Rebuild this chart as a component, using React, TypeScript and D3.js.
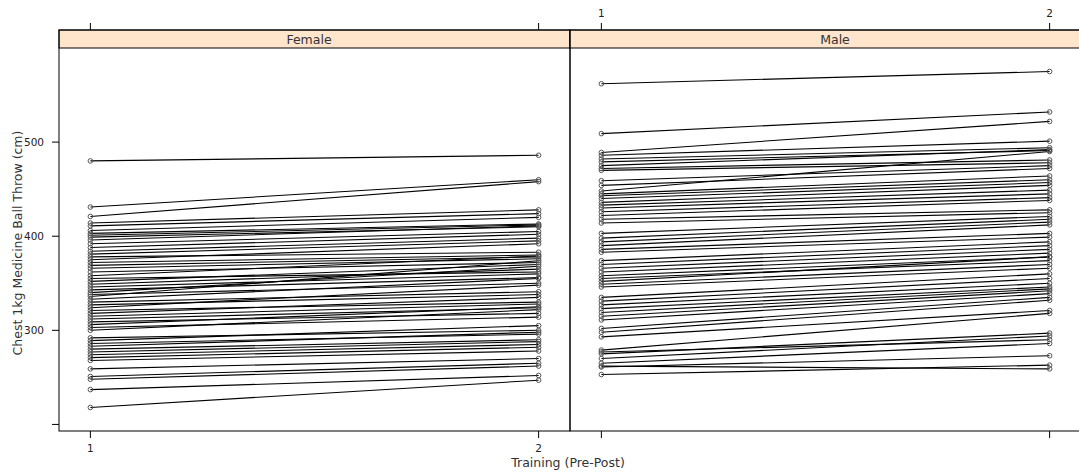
import React from "react";
import * as d3 from "d3";

const panels = ["Female", "Male"];

const femalePre = [480, 431, 421, 414, 411, 406, 403, 401, 399, 396, 392, 388, 384, 381, 378, 375, 372, 369, 366, 362, 358, 355, 352, 349, 346, 343, 340, 338, 336, 333, 330, 327, 324, 321, 318, 315, 312, 309, 306, 303, 300, 292, 289, 286, 283, 280, 277, 274, 271, 268, 259, 251, 248, 237, 218];
const femalePost = [486, 460, 458, 428, 424, 420, 413, 412, 410, 411, 405, 402, 398, 395, 383, 392, 380, 378, 376, 372, 379, 362, 370, 365, 360, 356, 368, 350, 374, 355, 341, 338, 348, 330, 335, 328, 324, 318, 325, 314, 322, 300, 305, 296, 298, 290, 288, 285, 282, 278, 270, 265, 262, 252, 247];

const malePre = [562, 509, 489, 486, 482, 479, 475, 472, 470, 459, 454, 448, 445, 443, 440, 436, 433, 430, 426, 422, 418, 414, 403, 398, 394, 390, 386, 383, 374, 370, 366, 362, 358, 355, 352, 349, 346, 335, 331, 327, 323, 319, 315, 311, 302, 298, 293, 279, 277, 275, 270, 265, 262, 261, 253];
const malePost = [575, 532, 522, 501, 494, 491, 492, 481, 478, 475, 472, 490, 464, 460, 457, 454, 449, 445, 441, 438, 428, 425, 421, 418, 415, 412, 403, 399, 394, 390, 386, 382, 378, 374, 378, 370, 366, 360, 355, 350, 346, 344, 342, 339, 335, 332, 321, 318, 290, 297, 294, 286, 259, 273, 263];

const xTicks = [1, 2];
const xTickLabels = ["1", "2"];
const yTicks = [200, 300, 400, 500];
const yTickLabels = ["", "300", "400", "500"];

export default function App() {
  const W = 1079, H = 474;
  const top = 30, stripH = 18, bottom = 431;
  const panelLeft = 59, panelW = 511;
  const font = "'DejaVu Sans', Verdana, sans-serif";

  const all = [...femalePre, ...femalePost, ...malePre, ...malePost];
  const lo = d3.min(all)!, hi = d3.max(all)!;
  const pad = (hi - lo) * 0.07;
  const y = d3.scaleLinear().domain([lo - pad, hi + pad]).range([bottom, top + stripH]);

  const data = [
    { name: panels[0], pre: femalePre, post: femalePost, labelX: 309 },
    { name: panels[1], pre: malePre, post: malePost, labelX: 835 },
  ];

  return (
    <svg width={W} height={H} style={{ position: "absolute", left: 0, top: 0, background: "#fff" }} fontFamily={font}>
      {data.map((p, i) => {
        const x0 = panelLeft + i * panelW;
        const x = d3.scaleLinear().domain([0.93, 2.07]).range([x0, x0 + panelW]);
        const line = d3.line<[number, number]>().x(d => x(d[0])).y(d => y(d[1]));
        return (
          <g key={p.name}>
            {p.pre.map((v, j) => (
              <path key={"l" + j} d={line([[1, v], [2, p.post[j]]])!} stroke="#000" strokeWidth={1.1} fill="none" />
            ))}
            {p.pre.map((v, j) => (
              <g key={"c" + j}>
                <circle cx={x(1)} cy={y(v)} r={2.3} fill="none" stroke="#555" strokeWidth={1} />
                <circle cx={x(2)} cy={y(p.post[j])} r={2.3} fill="none" stroke="#555" strokeWidth={1} />
              </g>
            ))}
            <rect x={x0} y={top} width={panelW} height={stripH} fill="#ffe5cc" stroke="#000" strokeWidth={1} />
            <text x={p.labelX} y={top + 13.5} textAnchor="middle" fontSize={12.5} fill="#333">{p.name}</text>
            <rect x={x0} y={top} width={panelW} height={bottom - top} fill="none" stroke="#000" strokeWidth={1} />
            {xTicks.map((t, k) => (
              <g key={"xt" + k}>
                <line x1={x(t)} x2={x(t)} y1={bottom} y2={bottom + 7} stroke="#000" />
                <line x1={x(t)} x2={x(t)} y1={top} y2={top - 7} stroke="#000" />
                {i === 0 ? (
                  <text x={x(t)} y={bottom + 21} textAnchor="middle" fontSize={10.5} fill="#222">{xTickLabels[k]}</text>
                ) : (
                  <text x={x(t)} y={top - 13} textAnchor="middle" fontSize={10.5} fill="#222">{xTickLabels[k]}</text>
                )}
              </g>
            ))}
          </g>
        );
      })}
      {yTicks.map((t, k) => (
        <g key={"yt" + k}>
          <line x1={panelLeft - 7} x2={panelLeft} y1={y(t)} y2={y(t)} stroke="#000" />
          <text x={panelLeft - 15} y={y(t) + 4} textAnchor="end" fontSize={10.5} fill="#222">{yTickLabels[k]}</text>
        </g>
      ))}
      <text transform={`translate(22,243) rotate(-90)`} textAnchor="middle" fontSize={12.5} fill="#333">Chest 1kg Medicine Ball Throw (cm)</text>
      <text x={568} y={467} textAnchor="middle" fontSize={12.5} fill="#333">Training (Pre-Post)</text>
    </svg>
  );
}
